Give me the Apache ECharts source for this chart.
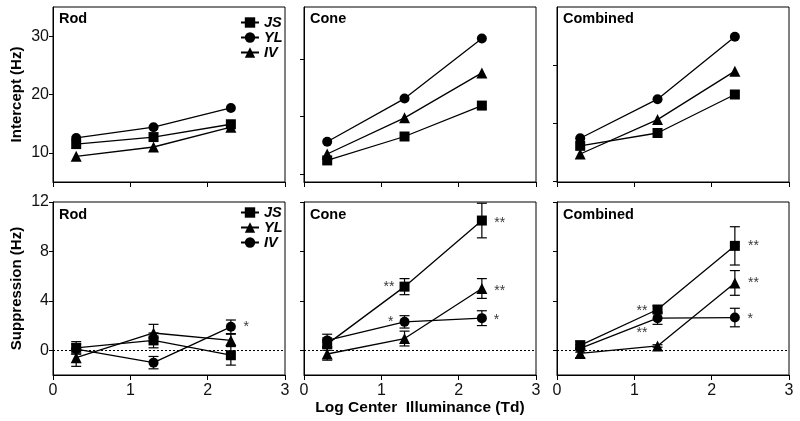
<!DOCTYPE html>
<html><head><meta charset="utf-8">
<script src="https://cdn.jsdelivr.net/npm/echarts@6/dist/echarts.min.js"></script>
<style>html,body{margin:0;padding:0;background:#fff}#c{width:800px;height:421px}</style>
</head><body><div id="c"></div>
<script>
// ---- data ----
const xPos = [0.3, 1.3, 2.3];
const panelNames = ['Rod', 'Cone', 'Combined'];
// Intercept (Hz)
const rodJS = [11.5, 12.7, 14.9];
const rodYL = [12.55, 14.4, 17.7];
const rodIV = [9.4, 11.0, 14.4];
const coneJS = [8.7, 12.8, 18.1];
const coneYL = [11.9, 19.3, 29.6];
const coneIV = [9.8, 16.0, 23.7];
const combJS = [11.2, 13.4, 20.0];
const combYL = [12.5, 19.2, 29.9];
const combIV = [9.8, 15.7, 24.0];
// Suppression (Hz) and error bars
const sRodJS = [0.2, 0.8, -0.4];     const eRodJS = [0.5, 0.6, 0.8];
const sRodYL = [-0.6, 1.4, 0.8];     const eRodYL = [0.7, 0.7, 0.5];
const sRodIV = [0.1, -1.0, 1.9];     const eRodIV = [0.4, 0.5, 0.55];
const sConeJS = [0.5, 5.15, 10.5];   const eConeJS = [0.5, 0.65, 1.4];
const sConeYL = [-0.3, 0.95, 5.0];   const eConeYL = [0.5, 0.6, 0.8];
const sConeIV = [0.8, 2.3, 2.6];     const eConeIV = [0.5, 0.5, 0.6];
const sCombJS = [0.4, 3.3, 8.45];    const eCombJS = [0.35, 0.3, 1.55];
const sCombYL = [-0.25, 0.35, 5.45]; const eCombYL = [0.35, 0.1, 1.0];
const sCombIV = [0.15, 2.6, 2.65];   const eCombIV = [0.3, 0.5, 0.75];
// significance annotations [x, y, text]
const starsRod = [[2.5, 1.9, '*']];
const starsCone = [[1.1, 5.1, '**'], [1.12, 2.3, '*'], [2.53, 10.3, '**'], [2.53, 4.8, '**'], [2.49, 2.4, '*']];
const starsComb = [[1.1, 3.15, '**'], [1.1, 1.4, '**'], [2.54, 8.4, '**'], [2.54, 5.45, '**'], [2.5, 2.55, '*']];
// tick values
const xTicks = [0, 1, 2, 3];
const topTicks = [[10, 20, 30], [6.3, 16.2, 26.1], [5.1, 15, 25]];
const bottomTicks = [0, 4, 8, 12];
const zeroRef = 0;

// ---- layout ----
const lefts = [53, 304, 557];
const W = 232;
const FONT = "'Liberation Sans', Arial, sans-serif";
const grids = [];
lefts.forEach(l => grids.push({left: l, top: 7, width: W, height: 175, show: true, borderColor: '#000', borderWidth: 1}));
lefts.forEach(l => grids.push({left: l, top: 202, width: W, height: 173, show: true, borderColor: '#000', borderWidth: 1}));

const xAxes = grids.map((g, i) => ({
  type: 'value', gridIndex: i, min: 0, max: 3, interval: 1,
  axisLine: {onZero: false, lineStyle: {color: '#000', width: 1}},
  axisTick: {show: true, length: 5, lineStyle: {color: '#000'}},
  splitLine: {show: false},
  axisLabel: {show: i >= 3, fontSize: 16, color: '#111', margin: 8, fontFamily: FONT},
  name: i === 4 ? 'Log Center  Illuminance (Td)' : '',
  nameLocation: 'middle', nameGap: 25,
  nameTextStyle: {fontSize: 15.5, fontWeight: 'bold', color: '#000', fontFamily: FONT}
}));
const yAxes = grids.map((g, i) => {
  const top = i < 3;
  return {
    type: 'value', gridIndex: i,
    min: top ? 5 : -2, max: top ? 35 : 12,
    axisLine: {show: true, onZero: false, lineStyle: {color: '#000', width: 1}},
    axisTick: {show: true, length: 4, lineStyle: {color: '#000'}, customValues: top ? topTicks[i] : bottomTicks},
    splitLine: {show: false},
    axisLabel: {show: i === 0 || i === 3, fontSize: 16, color: '#111', margin: 4, fontFamily: FONT,
      customValues: top ? topTicks[0] : bottomTicks},
    name: i === 0 ? 'Intercept (Hz)' : (i === 3 ? 'Suppression (Hz)' : ''),
    nameLocation: 'middle', nameGap: 29,
    nameTextStyle: {fontSize: 15, fontWeight: 'bold', color: '#000', fontFamily: FONT}
  };
});

const SIZES = {rect: 10, circle: 10, triangle: 11};
function lineSeries(name, vals, gi, symbol) {
  return {
    type: 'line', name: name, xAxisIndex: gi, yAxisIndex: gi,
    data: xPos.map((x, k) => [x, vals[k]]),
    symbol: symbol, symbolSize: SIZES[symbol], showSymbol: true,
    lineStyle: {color: '#000', width: 1.3}, itemStyle: {color: '#000'},
    z: 3, animation: false, silent: true
  };
}
function errSeries(gi, vals, errs, withZero) {
  const s = {
    type: 'custom', xAxisIndex: gi, yAxisIndex: gi, silent: true, z: 2, animation: false,
    data: xPos.map((x, k) => [x, vals[k] - errs[k], vals[k] + errs[k]]),
    encode: {x: 0, y: [1, 2]},
    renderItem: function (params, api) {
      const lo = api.coord([api.value(0), api.value(1)]);
      const hi = api.coord([api.value(0), api.value(2)]);
      const w = 5, st = {stroke: '#000', lineWidth: 1.2};
      return {type: 'group', children: [
        {type: 'line', shape: {x1: lo[0], y1: lo[1], x2: hi[0], y2: hi[1]}, style: st},
        {type: 'line', shape: {x1: lo[0] - w, y1: lo[1], x2: lo[0] + w, y2: lo[1]}, style: st},
        {type: 'line', shape: {x1: hi[0] - w, y1: hi[1], x2: hi[0] + w, y2: hi[1]}, style: st}
      ]};
    }
  };
  if (withZero) {
    s.markLine = {silent: true, symbol: 'none', label: {show: false}, animation: false, z: 1,
      lineStyle: {color: '#000', width: 1, type: [2, 2]}, data: [{yAxis: zeroRef}]};
  }
  return s;
}
function starSeries(gi, stars) {
  return {
    type: 'scatter', xAxisIndex: gi, yAxisIndex: gi, silent: true, symbolSize: 0, animation: false,
    data: stars.map(s => ({value: [s[0], s[1]], label: {formatter: s[2]}})),
    label: {show: true, position: 'inside', color: '#000', fontSize: 14, fontFamily: FONT, align: 'center', verticalAlign: 'middle'}
  };
}

const series = [
  // top row: JS square, YL circle, IV triangle
  lineSeries('JS', rodJS, 0, 'rect'), lineSeries('YL', rodYL, 0, 'circle'), lineSeries('IV', rodIV, 0, 'triangle'),
  lineSeries('JS', coneJS, 1, 'rect'), lineSeries('YL', coneYL, 1, 'circle'), lineSeries('IV', coneIV, 1, 'triangle'),
  lineSeries('JS', combJS, 2, 'rect'), lineSeries('YL', combYL, 2, 'circle'), lineSeries('IV', combIV, 2, 'triangle'),
  // bottom row: JS square, YL triangle, IV circle
  errSeries(3, sRodJS, eRodJS, true), errSeries(3, sRodYL, eRodYL), errSeries(3, sRodIV, eRodIV),
  errSeries(4, sConeJS, eConeJS, true), errSeries(4, sConeYL, eConeYL), errSeries(4, sConeIV, eConeIV),
  errSeries(5, sCombJS, eCombJS, true), errSeries(5, sCombYL, eCombYL), errSeries(5, sCombIV, eCombIV),
  lineSeries('JS_s', sRodJS, 3, 'rect'), lineSeries('YL_s', sRodYL, 3, 'triangle'), lineSeries('IV_s', sRodIV, 3, 'circle'),
  lineSeries('JS_s', sConeJS, 4, 'rect'), lineSeries('YL_s', sConeYL, 4, 'triangle'), lineSeries('IV_s', sConeIV, 4, 'circle'),
  lineSeries('JS_s', sCombJS, 5, 'rect'), lineSeries('YL_s', sCombYL, 5, 'triangle'), lineSeries('IV_s', sCombIV, 5, 'circle'),
  starSeries(3, starsRod), starSeries(4, starsCone), starSeries(5, starsComb)
];

const titleStyle = {fontSize: 14.5, fontWeight: 'bold', color: '#000', fontFamily: FONT};
const titles = [];
panelNames.forEach((n, i) => {
  titles.push({text: n, left: lefts[i] + 6, top: 11, padding: 0, textStyle: titleStyle});
  titles.push({text: n, left: lefts[i] + 6, top: 207, padding: 0, textStyle: titleStyle});
});

const legendText = {fontSize: 14.5, fontWeight: 'bold', fontStyle: 'italic', color: '#000', fontFamily: FONT, lineHeight: 15};
const option = {
  backgroundColor: '#fff',
  animation: false,
  textStyle: {fontFamily: FONT},
  title: titles,
  grid: grids, xAxis: xAxes, yAxis: yAxes,
  legend: [
    {data: ['JS', 'YL', 'IV'], orient: 'vertical', left: 240, top: 15, itemWidth: 18, itemHeight: 13, itemGap: 0,
     padding: 0, selectedMode: false, textStyle: legendText},
    {data: ['JS_s', 'YL_s', 'IV_s'], orient: 'vertical', left: 240, top: 205, itemWidth: 18, itemHeight: 13, itemGap: 0,
     padding: 0, selectedMode: false, textStyle: legendText, formatter: n => n.replace('_s', '')}
  ],
  series: series
};
const chart = echarts.init(document.getElementById('c'), null, {renderer: 'canvas'});
chart.setOption(option);
</script>
</body></html>
